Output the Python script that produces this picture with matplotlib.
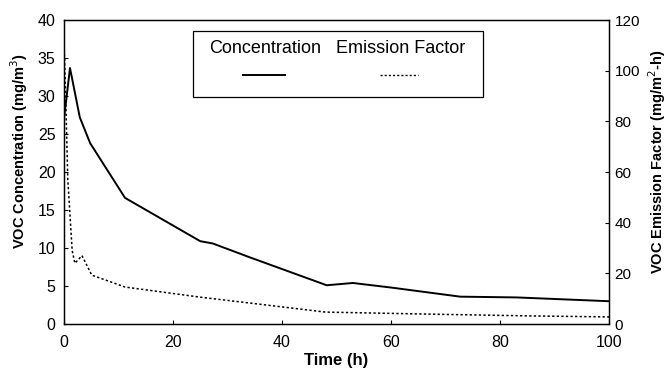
import numpy as np
import matplotlib
matplotlib.use('Agg')
import matplotlib.pyplot as plt

plt.rcParams['font.family'] = ['Liberation Sans', 'DejaVu Sans']

# Concentration (left axis), mg/m3
conc_t = [0, 0.5, 1.1, 2.9, 4.8, 11.2, 25, 27.3, 34, 48.2, 53, 60, 72.7, 83, 100]
conc = [27, 30, 33.7, 27.2, 23.8, 16.6, 10.9, 10.6, 8.8, 5.1, 5.4, 4.8, 3.6, 3.5, 3.0]

# Emission factor (right axis), mg/m2-h
ef_t = [0, 0.3, 0.7, 1.5, 2.0, 3.3, 5.1, 11.2, 25, 34, 48, 67, 85.5, 100]
ef = [112, 90, 57, 29, 24, 27, 19.3, 14.6, 10.6, 8.3, 4.7, 3.9, 3.2, 2.8]

fig = plt.figure(figsize=(6.68, 3.72), dpi=100)
ax = fig.add_axes([0.0958, 0.129, 0.8159, 0.817])
ax2 = ax.twinx()

ax.plot(conc_t, conc, color='black', lw=1.4, ls='-')
ax2.plot(ef_t, ef, color='black', lw=1.1, ls=(0, (1.5, 1.5)))

ax.set_xlim(0, 100)
ax.set_ylim(0, 40)
ax2.set_ylim(0, 120)
ax.set_xticks(np.arange(0, 101, 20))
ax.set_yticks(np.arange(0, 41, 5))
ax2.set_yticks(np.arange(0, 121, 20))

ax.tick_params(direction='in', length=3, labelsize=11.5, width=0.8)
ax.tick_params(axis='x', pad=8)
ax.tick_params(axis='y', pad=6)
ax2.tick_params(direction='in', length=3, labelsize=11, width=0.8, pad=4)

ax.set_xlabel('Time (h)', fontsize=12, fontweight='bold', labelpad=2)
ax.set_ylabel('VOC Concentration (mg/m$^3$)', fontsize=10.5, fontweight='bold',
              va='center')
ax.yaxis.set_label_coords(-0.083, 0.57)
ax2.set_ylabel('VOC Emission Factor (mg/m$^2$-h)', fontsize=10.5, fontweight='bold',
               va='center', rotation=90)
ax2.yaxis.set_label_coords(1.088, 0.535)

for a in (ax, ax2):
    for s in a.spines.values():
        s.set_linewidth(0.9)

# legend box, labels above the line samples
box = plt.Rectangle((0.237, 0.747), 0.532, 0.217, transform=ax.transAxes,
                    fill=False, lw=0.9, color='black')
ax.add_patch(box)
ax.text(0.369, 0.906, 'Concentration', transform=ax.transAxes,
        ha='center', va='center', fontsize=13)
ax.text(0.618, 0.906, 'Emission Factor', transform=ax.transAxes,
        ha='center', va='center', fontsize=13)
ax.plot([0.328, 0.406], [0.82, 0.82], transform=ax.transAxes,
        color='black', lw=1.4)
ax.plot([0.58, 0.65], [0.82, 0.82], transform=ax.transAxes,
        color='black', lw=1.0, ls=(0, (1.5, 1.5)))

fig.savefig('out.png', dpi=100)
